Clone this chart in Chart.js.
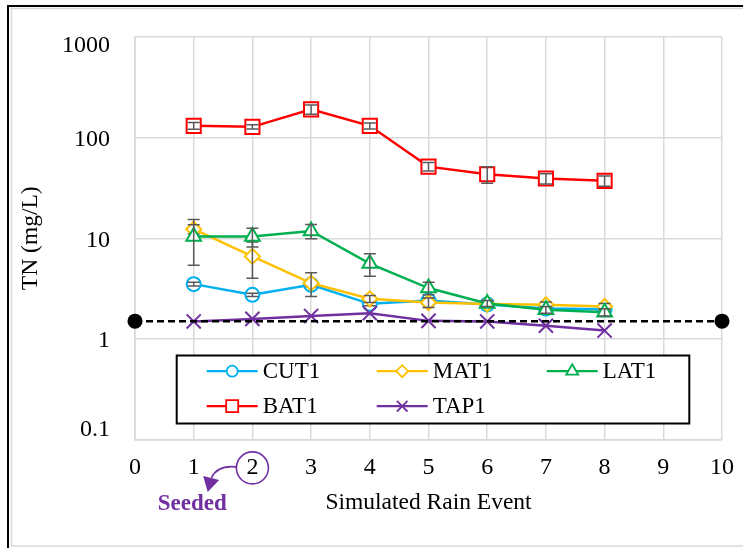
<!DOCTYPE html>
<html>
<head>
<meta charset="utf-8">
<script src="https://cdn.jsdelivr.net/npm/chart.js@4.4.1/dist/chart.umd.min.js"></script>
<style>
  html, body { margin: 0; padding: 0; background: #ffffff; }
  #wrap { width: 743px; height: 548px; position: relative; overflow: hidden; }
</style>
</head>
<body>
<div id="wrap"><canvas id="chart" width="743" height="548"></canvas></div>
<script>
// Simulated rain events and total nitrogen (mg/L) per column
const events = [1, 2, 3, 4, 5, 6, 7, 8];
const xTickValues = [0, 1, 2, 3, 4, 5, 6, 7, 8, 9, 10];
const yTickValues = [0.1, 1, 10, 100, 1000];

const cut1 = [3.5, 2.74, 3.45, 2.23, 2.4, 2.2, 2.0, 1.97];
const cut1Err = [0.15, 0.1, 0.15, 0.1, 0.15, 0.1, 0.1, 0.1];
const mat1 = [12.3, 6.6, 3.58, 2.5, 2.3, 2.22, 2.18, 2.1];
const mat1Err = [1.3, 2.6, 0.95, 0.2, 0.25, 0.15, 0.15, 0.15];
const lat1 = [10.4, 10.4, 11.8, 5.6, 3.2, 2.25, 1.95, 1.84];
const lat1Err = [5.0, 2.2, 1.9, 1.4, 0.45, 0.15, 0.15, 0.15];
const bat1 = [131, 128, 191, 131, 51.5, 43.3, 39.2, 37.2];
const bat1Err = [10, 6, 20, 9, 5, 8, 4.5, 4.4];
const tap1 = [1.49, 1.58, 1.69, 1.8, 1.51, 1.49, 1.35, 1.21];
const tap1Err = [0, 0, 0, 0, 0, 0, 0, 0];

// Reference level drawn as a dashed line across the whole axis
const baselineX = [0, 10];
const baselineY = 1.5;

const seriesNames = ['CUT1', 'MAT1', 'LAT1', 'BAT1', 'TAP1'];
const seriesValues = [cut1, mat1, lat1, bat1, tap1];
const seriesErrors = [cut1Err, mat1Err, lat1Err, bat1Err, tap1Err];
const seriesColors = ['#00B0F0', '#FFC000', '#00B050', '#FF0000', '#7030A0'];
const seriesMarkers = ['circle', 'rectRot', 'triangle', 'rect', 'crossRot'];
const markerRadius = [7, 7.5, 8.5, 10, 10];
const legendMarkerRadius = [5.5, 6, 7, 8.5, 7.5];

const serif = "'Liberation Serif', 'Times New Roman', serif";
const gridColor = '#D9D9D9';
const errColor = '#595959';
const accent = '#7030A0';

const datasets = seriesNames.map((name, i) => ({
  label: name,
  data: events.map((x, k) => ({ x: x, y: seriesValues[i][k] })),
  errors: seriesErrors[i],
  legendRadius: legendMarkerRadius[i],
  borderColor: seriesColors[i],
  backgroundColor: seriesColors[i],
  borderWidth: 2.5,
  tension: 0,
  pointStyle: seriesMarkers[i],
  pointRadius: markerRadius[i],
  pointBorderWidth: 2,
  pointBorderColor: seriesColors[i],
  pointBackgroundColor: '#ffffff',
  order: 6 - i,
  showInLegend: true
}));

datasets.push({
  label: 'baseline',
  data: baselineX.map(x => ({ x: x, y: baselineY })),
  borderColor: '#000000',
  backgroundColor: '#000000',
  borderWidth: 2.5,
  borderDash: [7, 4],
  pointStyle: 'circle',
  pointRadius: 7.5,
  pointBorderWidth: 0,
  pointBackgroundColor: '#000000',
  clip: false,
  order: 0,
  showInLegend: false
});

// Keep the outermost value labels inside the plot's height
const edgeLabels = {
  id: 'edgeLabels',
  beforeDraw(chart) {
    const ys = chart.scales.y;
    const items = ys.getLabelItems();
    if (items._shifted) return;
    items.forEach(it => {
      const t = it.options.translation;
      if (it.label === '1000') t[1] += 9;
      else if (it.label === '0.1') t[1] -= 9.5;
      else t[1] += 2;
    });
    items._shifted = true;
  }
};

// Error bars for each series, drawn right after the series itself
const errorBars = {
  id: 'errorBars',
  afterDatasetDraw(chart, args) {
    const ds = chart.data.datasets[args.index];
    if (!ds.errors) return;
    const ctx = chart.ctx, xs = chart.scales.x, ys = chart.scales.y;
    ctx.save();
    ctx.strokeStyle = errColor;
    ctx.lineWidth = 1.5;
    ds.data.forEach((p, k) => {
      const e = ds.errors[k];
      if (!e) return;
      const px = xs.getPixelForValue(p.x);
      const yt = ys.getPixelForValue(p.y + e);
      const yb = ys.getPixelForValue(Math.max(p.y - e, 0.1));
      ctx.beginPath();
      ctx.moveTo(px, yt); ctx.lineTo(px, yb);
      ctx.moveTo(px - 6, yt); ctx.lineTo(px + 6, yt);
      ctx.moveTo(px - 6, yb); ctx.lineTo(px + 6, yb);
      ctx.stroke();
    });
    ctx.restore();
  }
};

// Boxed legend inside the plot area, three entries per row
const boxedLegend = {
  id: 'boxedLegend',
  afterDraw(chart) {
    const ctx = chart.ctx, area = chart.chartArea;
    const bx = area.left + 41.7, by = area.top + 318.5, bw = 512.6, bh = 68;
    ctx.save();
    ctx.fillStyle = '#ffffff';
    ctx.fillRect(bx, by, bw, bh);
    ctx.strokeStyle = '#000000';
    ctx.lineWidth = 2;
    ctx.strokeRect(bx, by, bw, bh);
    const colX = [30, 200, 370];
    const rowY = [15.7, 50.7];
    const entries = chart.data.datasets.filter(d => d.showInLegend);
    entries.forEach((d, i) => {
      const x0 = bx + colX[i % 3];
      const y0 = by + rowY[Math.floor(i / 3)];
      ctx.strokeStyle = d.borderColor;
      ctx.lineWidth = 2.2;
      ctx.setLineDash([]);
      ctx.beginPath();
      ctx.moveTo(x0, y0); ctx.lineTo(x0 + 51, y0);
      ctx.stroke();
      ctx.fillStyle = '#ffffff';
      ctx.lineWidth = 1.8;
      Chart.helpers.drawPoint(ctx, { pointStyle: d.pointStyle, radius: d.legendRadius, borderWidth: 1.8, rotation: 0 }, x0 + 25.5, y0);
      ctx.fillStyle = '#000000';
      ctx.font = '23px ' + serif;
      ctx.textAlign = 'left';
      ctx.textBaseline = 'middle';
      ctx.fillText(d.label, x0 + 56, y0 + 1);
    });
    ctx.restore();
  }
};

// Frame, circled event 2 and the "Seeded" note
const decorations = {
  id: 'decorations',
  afterDraw(chart) {
    const ctx = chart.ctx, xs = chart.scales.x;
    const w = chart.width, h = chart.height;
    ctx.save();
    ctx.strokeStyle = gridColor;
    ctx.lineWidth = 1.5;
    ctx.strokeRect(11.5, 8.5, w + 10, h - 10.5);
    ctx.strokeStyle = '#000000';
    ctx.lineWidth = 2;
    ctx.beginPath();
    ctx.moveTo(8, h + 2); ctx.lineTo(8, 6); ctx.lineTo(w + 2, 6);
    ctx.stroke();

    const x1 = xs.getPixelForValue(1);
    const x2 = xs.getPixelForValue(2);
    const cy = xs.top + 14 + 14.4;
    ctx.strokeStyle = accent;
    ctx.fillStyle = accent;
    ctx.lineWidth = 1.6;
    ctx.beginPath();
    ctx.arc(x2, cy, 16, 0, Math.PI * 2);
    ctx.stroke();

    ctx.beginPath();
    ctx.moveTo(x2 - 16, cy - 1);
    ctx.quadraticCurveTo(x1 + 23.5, cy - 3, x1 + 17.8, cy + 10);
    ctx.stroke();
    ctx.beginPath();
    ctx.moveTo(x1 + 14, cy + 24);
    ctx.lineTo(x1 + 9.5, cy + 8);
    ctx.lineTo(x1 + 25.5, cy + 12);
    ctx.closePath();
    ctx.fill();

    ctx.font = 'bold 23px ' + serif;
    ctx.textAlign = 'center';
    ctx.textBaseline = 'middle';
    ctx.fillText('Seeded', x1 - 1.5, cy + 36);
    ctx.restore();
  }
};

new Chart(document.getElementById('chart'), {
  type: 'line',
  data: { datasets: datasets },
  options: {
    responsive: false,
    animation: false,
    devicePixelRatio: 1,
    layout: { padding: { top: 37, right: 21, left: 0, bottom: 0 } },
    plugins: { legend: { display: false }, tooltip: { enabled: false } },
    scales: {
      x: {
        type: 'linear',
        min: 0,
        max: 10,
        afterBuildTicks: s => { s.ticks = xTickValues.map(v => ({ value: v })); },
        afterFit: s => {
          s.height = 108.5;
          s.paddingLeft = 0; s.paddingRight = 0;
        },
        ticks: { color: '#000000', font: { family: serif, size: 24 }, padding: 14 },
        grid: { color: gridColor, lineWidth: 1.5, drawTicks: false },
        border: { color: gridColor, width: 1.5 },
        title: {
          display: true,
          text: 'Simulated Rain Event',
          color: '#000000',
          font: { family: serif, size: 23.5 },
          padding: { top: 0, bottom: 31 }
        }
      },
      y: {
        type: 'logarithmic',
        min: 0.1,
        max: 1000,
        afterBuildTicks: s => { s.ticks = yTickValues.map(v => ({ value: v })); },
        afterFit: s => {
          s.width = 135;
          s.paddingTop = 0; s.paddingBottom = 0;
        },
        ticks: { color: '#000000', font: { family: serif, size: 24 }, padding: 25, callback: v => String(v) },
        grid: { color: gridColor, lineWidth: 1.5, drawTicks: false },
        border: { color: gridColor, width: 1.5 },
        title: {
          display: true,
          text: 'TN (mg/L)',
          color: '#000000',
          font: { family: serif, size: 23.5 },
          padding: { top: 17, bottom: 0 }
        }
      }
    }
  },
  plugins: [edgeLabels, errorBars, boxedLegend, decorations]
});
</script>
</body>
</html>
